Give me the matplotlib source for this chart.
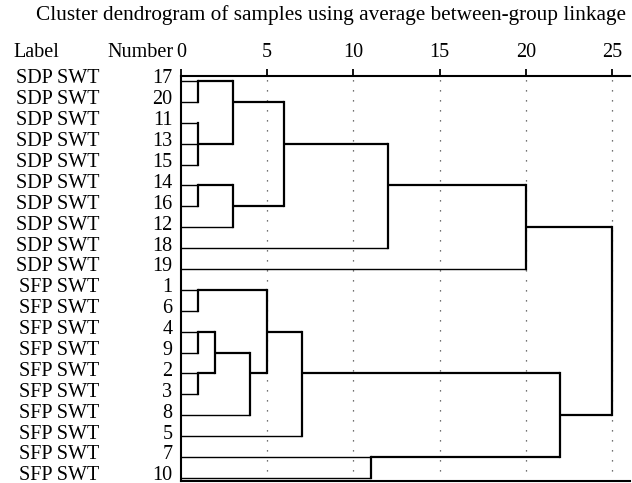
import matplotlib.pyplot as plt

plt.rcParams['font.family'] = ['Liberation Serif', 'DejaVu Serif']

# leaf order, top to bottom
numbers = [17, 20, 11, 13, 15, 14, 16, 12, 18, 19, 1, 6, 4, 9, 2, 3, 8, 5, 7, 10]
labels = ['SDP SWT'] * 10 + ['SFP SWT'] * 10

# merges: (children, rescaled distance); clusters are named c0, c1, ...
merges = [
    ((17, 20), 1),
    ((11, 13, 15), 1),
    (('c0', 'c1'), 3),
    ((14, 16), 1),
    (('c3', 12), 3),
    (('c2', 'c4'), 6),
    (('c5', 18), 12),
    (('c6', 19), 20),
    ((1, 6), 1),
    ((4, 9), 1),
    ((2, 3), 1),
    (('c9', 'c10'), 2),
    (('c11', 8), 4),
    (('c8', 'c12'), 5),
    (('c13', 5), 7),
    ((7, 10), 11),
    (('c14', 'c15'), 22),
    (('c7', 'c16'), 25),
]
ticks = [0, 5, 10, 15, 20, 25]

fig = plt.figure(figsize=(6.32, 4.83), dpi=100)
ax = fig.add_axes([181 / 632, 2 / 483, 449 / 632, 405 / 483])

# row and height of every node
row = {n: i for i, n in enumerate(numbers)}
height = {n: 0 for n in numbers}
for k, (kids, h) in enumerate(merges):
    rows = [row[c] for c in kids]
    for c in kids:
        leaf = not isinstance(c, str)
        ax.plot([height[c], h], [row[c], row[c]], color='black',
                lw=1.0 if leaf else 1.6, solid_capstyle='butt', zorder=3)
    ax.plot([h, h], [min(rows), max(rows)], color='black', lw=1.6,
            solid_capstyle='projecting', zorder=3)
    name = 'c%d' % k
    row[name] = (min(rows) + max(rows)) // 2
    height[name] = h

for t in ticks[1:]:
    ax.axvline(t, color='#444444', lw=0.9, linestyle=(0, (1, 7)), zorder=1)

fs = 14.5
ax.set_xlim(0, 26.05)
ax.set_ylim(19.15, -0.24)
ax.xaxis.tick_top()
ax.set_xticks(ticks)
ax.tick_params(axis='x', direction='out', length=5, width=1.3, pad=5, labelsize=fs)
ax.set_yticks([])
ax.spines['right'].set_visible(False)
for s in ['top', 'bottom', 'left']:
    ax.spines[s].set_linewidth(1.5)

for i, (lab, n) in enumerate(zip(labels, numbers)):
    ax.text(-4.75, i - 0.1, lab, ha='right', va='center', fontsize=fs, clip_on=False)
    ax.text(-0.5, i - 0.1, str(n), ha='right', va='center', fontsize=fs, clip_on=False)

ax.text(-9.7, -0.91, 'Label', ha='left', va='bottom', fontsize=fs, clip_on=False)
ax.text(-0.45, -0.91, 'Number', ha='right', va='bottom', fontsize=fs, clip_on=False)

fig.text(331 / 632, 1 - 15 / 483, 'Cluster dendrogram of samples using average between-group linkage',
         ha='center', va='center', fontsize=15.3)

fig.savefig('out.png', dpi=100)
